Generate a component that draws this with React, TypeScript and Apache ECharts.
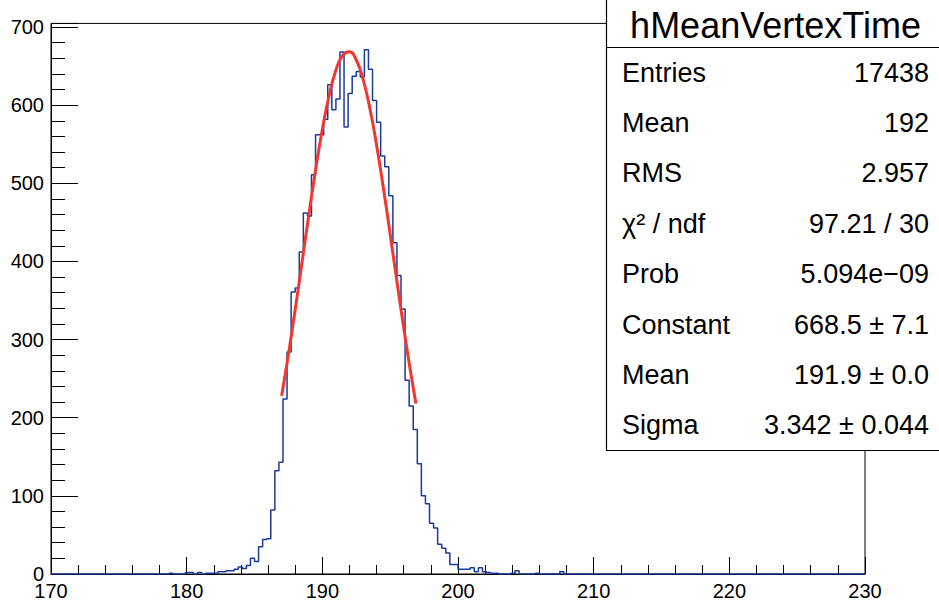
import React, { useEffect, useRef } from "react";
import * as echarts from "echarts";

// Histogram binning (hMeanVertexTime): 200 bins of 0.3 from 170 to 230
const histMin = 170;
const histMax = 230;
const binWidth = 0.3;
const nBins = 200;
const firstFilledBin = 29;
// bin contents from bin 29 (178.7) up to bin 125 (207.5); all other bins empty
const filledCounts = [
  1, 0, 0, 0, 2, 2, 0, 2, 0, 1,
  1, 1, 3, 3, 4, 4, 6, 9, 7, 11,
  20, 16, 35, 44, 45, 82, 132, 143, 224, 284,
  361, 366, 412, 462, 458, 511, 562, 562, 582, 626,
  594, 608, 668, 572, 615, 637, 643, 636, 671, 646,
  606, 578, 535, 521, 484, 424, 382, 339, 248, 215,
  185, 141, 100, 90, 65, 59, 38, 33, 27, 12,
  12, 6, 6, 6, 8, 3, 8, 3, 2, 1,
  1, 0, 0, 0, 1, 4, 0, 0, 0, 0,
  1, 0, 0, 0, 0, 0, 3,
];

// Gaussian fit curve
const fitX = [187.0, 187.5, 188.0, 188.5, 189.0, 189.5, 190.0, 190.5, 191.0, 191.5, 192.0, 192.5, 193.0, 193.5, 194.0, 194.5, 195.0, 195.5, 196.0, 196.5, 196.9];
const fitY = [228.2, 281.0, 338.4, 398.4, 458.8, 516.6, 568.8, 612.3, 644.7, 663.7, 668.2, 657.8, 633.3, 596.1, 548.7, 494.0, 434.8, 374.2, 315.0, 259.2, 218.3];

const yMax = 704.6;

const statsTitle = "hMeanVertexTime";
const statsLabels = ["Entries", "Mean", "RMS", "\u03c7\u00b2 / ndf", "Prob", "Constant", "Mean", "Sigma"];
const statsValues = ["17438", "192", "2.957", "97.21 / 30", "5.094e\u221209", "668.5 \u00b1 7.1", "191.9 \u00b1 0.0", "3.342 \u00b1 0.044"];

const FONT = '"Liberation Sans", Arial, Helvetica, sans-serif';

export default function App() {
  const ref = useRef<HTMLDivElement>(null);

  useEffect(() => {
    if (!ref.current) return;
    const chart = echarts.init(ref.current, undefined, { renderer: "svg" });

    const counts: number[] = new Array(nBins).fill(0);
    filledCounts.forEach((c, i) => {
      counts[firstFilledBin + i] = c;
    });
    const histPoints: number[][] = counts.map((c, k) => [+(histMin + k * binWidth).toFixed(4), c]);
    histPoints.push([histMax, counts[nBins - 1]]);

    const fitPoints = fitX.map((x, i) => [x, fitY[i]]);

    const rowY0 = 72.5;
    const rowStep = 50.4;
    const statsElements: any[] = [
      {
        type: "rect",
        z: 100,
        shape: { x: 606.5, y: -2, width: 340, height: 452.5 },
        style: { fill: "#ffffff", stroke: "#000000", lineWidth: 1.2 },
      },
      {
        type: "line",
        z: 101,
        shape: { x1: 606.5, y1: 47.5, x2: 945, y2: 47.5 },
        style: { stroke: "#000000", lineWidth: 1.2 },
      },
      {
        type: "text",
        z: 102,
        x: 775.5,
        y: 25,
        style: {
          text: statsTitle,
          fill: "#000",
          font: `36px ${FONT}`,
          textAlign: "center",
          textVerticalAlign: "middle",
        },
      },
    ];
    statsLabels.forEach((lab, i) => {
      statsElements.push({
        type: "text",
        z: 102,
        x: 622,
        y: rowY0 + i * rowStep,
        style: {
          text: lab,
          fill: "#000",
          font: `27px ${FONT}`,
          textAlign: "left",
          textVerticalAlign: "middle",
        },
      });
      statsElements.push({
        type: "text",
        z: 102,
        x: 929,
        y: rowY0 + i * rowStep,
        style: {
          text: statsValues[i],
          fill: "#000",
          font: `27px ${FONT}`,
          textAlign: "right",
          textVerticalAlign: "middle",
        },
      });
    });

    const labelStyle = { color: "#000", fontSize: 20, fontFamily: FONT };

    const option: any = {
      animation: false,
      backgroundColor: "#ffffff",
      grid: {
        left: 51,
        right: 74,
        top: 23.4,
        bottom: 28,
        show: true,
        borderColor: "#000",
        borderWidth: 1,
        backgroundColor: "transparent",
      },
      xAxis: {
        type: "value",
        min: histMin,
        max: histMax,
        interval: 10,
        axisLine: { show: true, lineStyle: { color: "#000", width: 1 } },
        axisTick: { show: true, inside: true, length: 17, lineStyle: { color: "#000", width: 1 } },
        minorTick: { show: true, splitNumber: 5, length: 9, lineStyle: { color: "#000", width: 1 } },
        splitLine: { show: false },
        minorSplitLine: { show: false },
        axisLabel: { ...labelStyle, margin: 7 },
      },
      yAxis: [
        {
          type: "value",
          min: 0,
          max: yMax,
          interval: 20,
          axisLine: { show: true, lineStyle: { color: "#000", width: 1 } },
          axisTick: { show: true, inside: true, length: 14, lineStyle: { color: "#000", width: 1 } },
          splitLine: { show: false },
          axisLabel: {
            ...labelStyle,
            margin: 7,
            formatter: (v: number) => (Math.abs(v % 100) < 1e-6 && v <= 700 ? String(Math.round(v)) : ""),
          },
        },
        {
          type: "value",
          min: 0,
          max: yMax,
          interval: 100,
          position: "left",
          axisLine: { show: false },
          axisTick: { show: true, inside: true, length: 27, lineStyle: { color: "#000", width: 1 } },
          splitLine: { show: false },
          axisLabel: { show: false },
        },
      ],
      series: [
        {
          name: "hMeanVertexTime",
          type: "line",
          yAxisIndex: 0,
          data: histPoints,
          step: "end",
          showSymbol: false,
          symbol: "none",
          lineStyle: { color: "#1b3aa0", width: 1.5 },
          clip: true,
          z: 3,
        },
        {
          name: "gaus",
          type: "line",
          yAxisIndex: 0,
          data: fitPoints,
          smooth: true,
          showSymbol: false,
          symbol: "none",
          lineStyle: { color: "#f2382e", width: 3 },
          z: 4,
        },
      ],
      graphic: { elements: statsElements },
    };

    chart.setOption(option);
    return () => chart.dispose();
  }, []);

  return (
    <div
      ref={ref}
      style={{ position: "fixed", left: 0, top: 0, width: 939, height: 602, background: "#fff" }}
    />
  );
}
